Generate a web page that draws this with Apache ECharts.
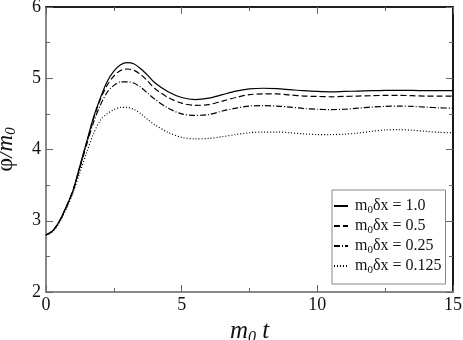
<!DOCTYPE html>
<html>
<head>
<meta charset="utf-8">
<script src="https://cdn.jsdelivr.net/npm/echarts@6/dist/echarts.min.js"></script>
<style>
  html, body { margin: 0; padding: 0; background: #fff; }
  #chart { width: 463px; height: 340px; }
</style>
</head>
<body>
<div id="chart"></div>
<script>
// time samples (m0 t)
const tVals = [0, 0.25, 0.5, 0.75, 1, 1.25, 1.5, 1.75, 2, 2.25, 2.5, 2.75, 3, 3.25, 3.5, 3.75, 4, 4.5, 5, 5.5,
  6, 6.5, 7, 7.5, 8, 8.5, 9, 9.5, 10, 10.5, 11, 11.5, 12, 12.5, 13, 13.5, 14, 14.5, 15]

// phi/m0 for each lattice spacing
const dx10 = [2.80, 2.86, 3.00, 3.20, 3.43, 3.77, 4.11, 4.45, 4.72, 4.95, 5.10, 5.19, 5.22, 5.20, 5.13, 5.04, 4.94, 4.81, 4.73, 4.70,
  4.72, 4.77, 4.82, 4.85, 4.86, 4.855, 4.84, 4.825, 4.815, 4.81, 4.815, 4.82, 4.825, 4.83, 4.83, 4.83, 4.825, 4.825, 4.825]
const dx05 = [2.80, 2.86, 3.00, 3.20, 3.43, 3.76, 4.10, 4.43, 4.70, 4.90, 5.03, 5.11, 5.13, 5.11, 5.05, 4.96, 4.86, 4.73, 4.65, 4.62,
  4.63, 4.68, 4.73, 4.77, 4.78, 4.78, 4.765, 4.75, 4.745, 4.74, 4.745, 4.75, 4.755, 4.76, 4.76, 4.755, 4.75, 4.75, 4.75]
const dx025 = [2.80, 2.86, 2.99, 3.19, 3.42, 3.74, 4.07, 4.38, 4.62, 4.80, 4.90, 4.95, 4.95, 4.93, 4.87, 4.79, 4.71, 4.58, 4.50, 4.48,
  4.49, 4.54, 4.58, 4.61, 4.615, 4.61, 4.595, 4.575, 4.565, 4.56, 4.565, 4.58, 4.595, 4.605, 4.61, 4.605, 4.595, 4.585, 4.58]
const dx0125 = [2.80, 2.85, 2.98, 3.17, 3.40, 3.68, 3.96, 4.22, 4.41, 4.50, 4.56, 4.59, 4.59, 4.56, 4.50, 4.42, 4.35, 4.24, 4.17, 4.15,
  4.155, 4.18, 4.21, 4.235, 4.245, 4.245, 4.235, 4.22, 4.21, 4.21, 4.215, 4.23, 4.255, 4.275, 4.28, 4.27, 4.255, 4.24, 4.235]

const seriesNames = ['m{s|0}δx = 1.0', 'm{s|0}δx = 0.5', 'm{s|0}δx = 0.25', 'm{s|0}δx = 0.125']
const seriesValues = [dx10, dx05, dx025, dx0125]
const dashTypes = ['solid', [6, 3], [6, 2, 1, 2], [1, 2]]

const xTicks = { min: 0, max: 15, interval: 5 }
const yTicks = { min: 2, max: 6, interval: 1 }

const serif = "'Liberation Serif', 'Times New Roman', serif"
const chart = echarts.init(document.getElementById('chart'), null, { renderer: 'canvas' })

const plotRect = { left: 46, right: 10, top: 7, bottom: 48, outerBoundsMode: 'none', containLabel: false }

const tickStyle = {
  axisTick: { show: true, inside: true, length: 7, lineStyle: { color: '#666', width: 1 } },
  minorTick: { show: true, splitNumber: 2, length: 4, lineStyle: { color: '#666', width: 1 } },
  splitLine: { show: false }
}

// mirror axes (top / right) live on a second grid with the same rectangle
const mirrorAxis = (extra) => Object.assign({
  type: 'value',
  gridIndex: 1,
  axisLine: { show: true, onZero: false, lineStyle: { color: '#000', width: 1.5 } },
  axisLabel: { show: false }
}, tickStyle, extra)

const mainAxis = (extra) => Object.assign({
  type: 'value',
  gridIndex: 0,
  axisLine: { show: true, onZero: false, lineStyle: { color: '#888', width: 2 } }
}, tickStyle, extra)

const option = {
  animation: false,
  backgroundColor: '#fff',
  grid: [
    Object.assign({ show: true, borderColor: '#000', borderWidth: 1.2, backgroundColor: 'transparent' }, plotRect),
    Object.assign({ show: false }, plotRect)
  ],
  xAxis: [
    mainAxis(Object.assign({}, xTicks, {
      position: 'bottom',
      axisLabel: { show: true, color: '#111', fontFamily: serif, fontSize: 18, margin: 4 },
      name: '{i|m}{s|0}{i| t}',
      nameLocation: 'middle',
      nameGap: 18,
      nameTextStyle: {
        fontFamily: serif,
        rich: {
          i: { fontFamily: serif, fontStyle: 'italic', fontSize: 25, color: '#111' },
          s: { fontFamily: serif, fontStyle: 'italic', fontSize: 16, color: '#111', padding: [13, 0, 0, 0] }
        }
      }
    })),
    mirrorAxis(Object.assign({}, xTicks, { position: 'top' }))
  ],
  yAxis: [
    mainAxis(Object.assign({}, yTicks, {
      position: 'left',
      axisLabel: { show: true, color: '#111', fontFamily: serif, fontSize: 18, margin: 5 },
      name: '{p|φ}{i|/m}{s|0}',
      nameLocation: 'middle',
      nameGap: 27,
      nameTextStyle: {
        fontFamily: serif,
        rich: {
          p: { fontFamily: serif, fontSize: 24, color: '#111' },
          i: { fontFamily: serif, fontStyle: 'italic', fontSize: 23, color: '#111' },
          s: { fontFamily: serif, fontStyle: 'italic', fontSize: 15, color: '#111', padding: [12, 0, 0, 0] }
        }
      }
    })),
    mirrorAxis(Object.assign({}, yTicks, { position: 'right' }))
  ],
  legend: {
    orient: 'vertical',
    left: 332,
    top: 190,
    width: 121,
    padding: [8, 4, 8, 1],
    itemWidth: 14,
    itemHeight: 14,
    itemGap: 2,
    backgroundColor: '#fff',
    borderColor: '#888',
    borderWidth: 1,
    borderRadius: 0,
    data: seriesNames,
    formatter: (name) => name,
    itemStyle: { color: 'rgba(0,0,0,0)', borderWidth: 0 },
    textStyle: {
      fontFamily: serif,
      fontSize: 16,
      color: '#111',
      padding: [0, 0, 0, 2],
      rich: {
        s: { fontFamily: serif, fontSize: 11, color: '#111', padding: [9, 0, 0, 0] }
      }
    }
  },
  series: seriesNames.map((name, k) => ({
    name: name,
    type: 'line',
    xAxisIndex: 0,
    yAxisIndex: 0,
    symbol: 'none',
    smooth: 0.3,
    data: tVals.map((t, i) => [t, seriesValues[k][i]]),
    lineStyle: { color: '#000', width: 1.2, type: dashTypes[k] },
    itemStyle: { color: '#000' }
  }))
}

chart.setOption(option)
</script>
</body>
</html>
